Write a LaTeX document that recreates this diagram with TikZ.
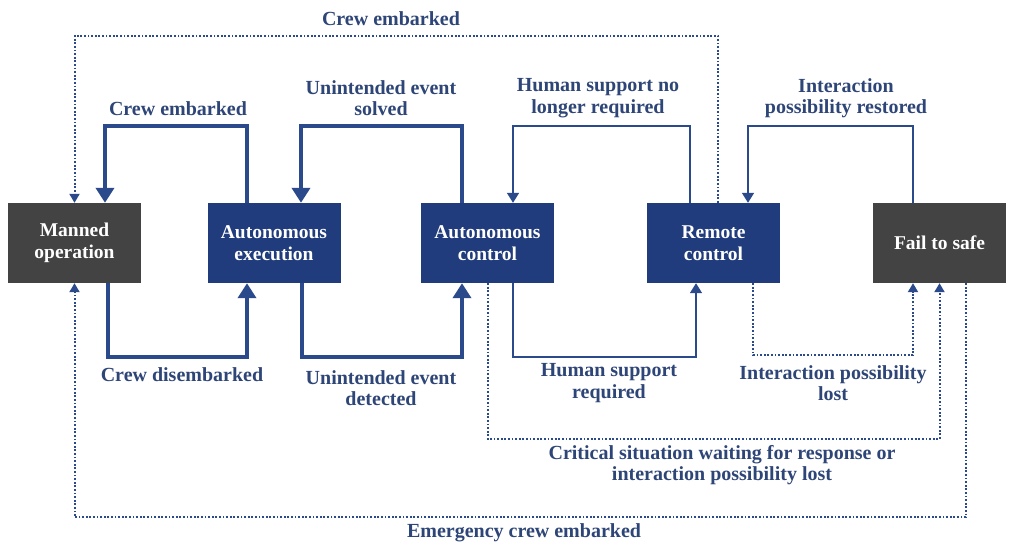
\documentclass[tikz,border=0pt]{standalone}
\usepackage{fontspec}
\setmainfont{Liberation Serif}
\usetikzlibrary{arrows.meta}
\definecolor{lineblue}{HTML}{2B4A8B}
\definecolor{textblue}{HTML}{2E4577}
\definecolor{boxblue}{HTML}{213C7C}
\definecolor{boxgray}{HTML}{434343}
\tikzset{
  statebox/.style={minimum width=133pt,minimum height=80pt,inner sep=0pt,
    text=white,align=center,font=\fontsize{19.5}{22}\selectfont\bfseries},
  bluebox/.style={statebox,fill=boxblue},
  graybox/.style={statebox,fill=boxgray},
  lbl/.style={text=textblue,align=center,inner sep=0pt,font=\fontsize{20}{21.5}\selectfont\bfseries},
  thickline/.style={draw=lineblue,line width=4.5pt,-{Triangle[length=15pt,width=18pt]}},
  thinline/.style={draw=lineblue,line width=1.6pt,-{Triangle[length=10pt,width=12pt]}},
  dotline/.style={draw=lineblue,line width=2pt,dash pattern=on 1.8pt off 1.8pt,-{Triangle[length=9pt,width=10pt]}},
}
\begin{document}
\begin{tikzpicture}[x=1pt,y=-1pt]
\useasboundingbox (0,0) rectangle (1010,552);
% boxes
\node[graybox] (mo) at (74.5,243) {Manned\\operation};
\node[bluebox] (ae) at (274,243) {Autonomous\\execution};
\node[bluebox] (ac) at (487.5,243) {Autonomous\\control};
\node[bluebox] (rc) at (713.5,243) {Remote\\control};
\node[graybox] (fs) at (939.5,243) {Fail to safe};
% thick connectors
\draw[thickline] ([xshift=-27pt]ae.north) -- ++(0,-77) -| ([xshift=30.5pt]mo.north);
\draw[thickline] ([xshift=33.5pt]mo.south) -- ++(0,74) -| ([xshift=-27pt]ae.south);
\draw[thickline] ([xshift=-25.5pt]ac.north) -- ++(0,-77) -| ([xshift=27pt]ae.north);
\draw[thickline] ([xshift=28pt]ae.south) -- ++(0,74) -| ([xshift=-25.5pt]ac.south);
% thin connectors
\draw[thinline] ([xshift=-23.5pt]rc.north) -- ++(0,-77) -| ([xshift=25.5pt]ac.north);
\draw[thinline] ([xshift=25.5pt]ac.south) -- ++(0,74) -| ([xshift=-17.5pt]rc.south);
\draw[thinline] ([xshift=-26.5pt]fs.north) -- ++(0,-77) -| ([xshift=34.5pt]rc.north);
% dotted connectors
\draw[dotline] ([xshift=4.5pt]rc.north) -- ++(0,-167) -| (mo.north);
\draw[dotline] ([xshift=39.5pt]rc.south) -- ++(0,72) -| ([xshift=-26.5pt]fs.south);
\draw[dotline] (ac.south) -- ++(0,156) -| (fs.south);
\draw[dotline] ([xshift=26.5pt]fs.south) -- ++(0,234) -| (mo.south);
% labels
\node[lbl] (l1) at (391,19) {Crew embarked};
\node[lbl] (l2) at (178,109) {Crew embarked};
\node[lbl] (l3) at (381,98) {Unintended event\\solved};
\node[lbl] (l4) at (598,98) {Human support no\\longer required};
\node[lbl] (l5) at (846,98) {Interaction\\possibility restored};
\node[lbl] (l6) at (182,375) {Crew disembarked};
\node[lbl] (l7) at (381,388) {Unintended event\\detected};
\node[lbl] (l8) at (609,383) {Human support\\required};
\node[lbl] (l9) at (833,383) {Interaction possibility\\lost};
\node[lbl] (l10) at (722,465) {Critical situation waiting for response or\\interaction possibility lost};
\node[lbl] (l11) at (524,533) {Emergency crew embarked};
\end{tikzpicture}
\end{document}
